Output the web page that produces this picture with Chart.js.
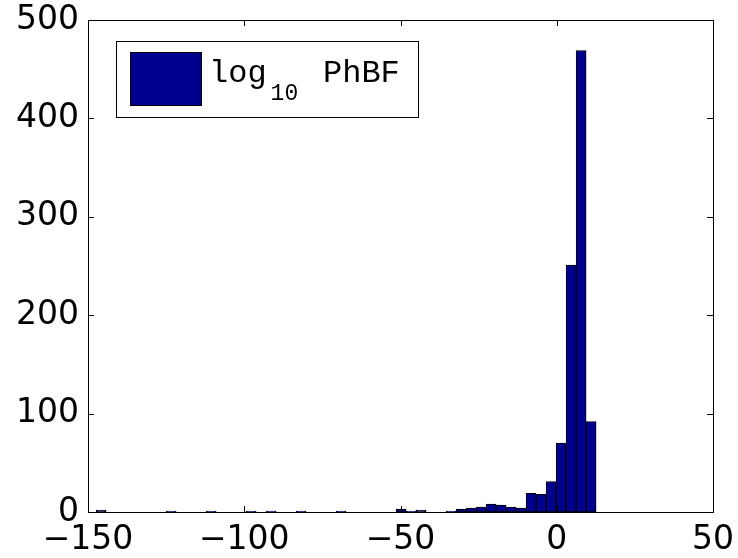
<!DOCTYPE html>
<html>
<head>
<meta charset="utf-8">
<title>log10 PhBF histogram</title>
<script src="https://cdn.jsdelivr.net/npm/chart.js@4.4.1/dist/chart.umd.min.js"></script>
<style>
  html, body { margin: 0; padding: 0; background: #fff; }
  canvas { display: block; }
</style>
</head>
<body>
<canvas id="hist" width="738" height="558"></canvas>
<script>
// histogram bins (centres) and counts
const binCenters = [
  -145.8, -142.6, -139.4, -136.2, -133.0, -129.8, -126.6, -123.4, -120.2, -117.0,
  -113.8, -110.6, -107.4, -104.2, -101.0, -97.8, -94.6, -91.4, -88.2, -85.0,
  -81.8, -78.6, -75.4, -72.2, -69.0, -65.8, -62.6, -59.4, -56.2, -53.0,
  -49.8, -46.6, -43.4, -40.2, -37.0, -33.8, -30.6, -27.4, -24.2, -21.0,
  -17.8, -14.6, -11.4, -8.2, -5.0, -1.8, 1.4, 4.6, 7.8, 11.0
];
const counts = [
  2, 0, 0, 0, 0, 0, 0, 1, 0, 0,
  0, 1, 0, 0, 0, 1, 0, 1, 0, 0,
  1, 0, 0, 0, 1, 0, 0, 0, 0, 0,
  3, 1, 2, 0, 0, 1, 3, 4, 5, 8,
  7, 5, 4, 19, 18, 31, 70, 251, 469, 92
];
const xTicks = [-150, -100, -50, 0, 50];
const yTicks = [0, 100, 200, 300, 400, 500];
const seriesLabel = "PhBF";

const barColor = "#00008f";
const tickFont = { family: "'DejaVu Sans', sans-serif", size: 33 };

// MATLAB style box with inward ticks on all four sides
const boxPlugin = {
  id: "box",
  afterDatasetsDraw(chart) {
    const { ctx, chartArea: a, scales } = chart;
    ctx.save();
    ctx.strokeStyle = "#000";
    ctx.lineWidth = 1;
    ctx.strokeRect(a.left + 0.5, a.top + 0.5, a.right - a.left, a.bottom - a.top);
    ctx.beginPath();
    xTicks.forEach(v => {
      const x = Math.round(scales.x.getPixelForValue(v)) + 0.5;
      ctx.moveTo(x, a.bottom); ctx.lineTo(x, a.bottom - 6);
      ctx.moveTo(x, a.top); ctx.lineTo(x, a.top + 6);
    });
    yTicks.forEach(v => {
      const y = Math.round(scales.y.getPixelForValue(v)) + 0.5;
      ctx.moveTo(a.left, y); ctx.lineTo(a.left + 6, y);
      ctx.moveTo(a.right, y); ctx.lineTo(a.right - 6, y);
    });
    ctx.stroke();
    ctx.restore();
  }
};

// legend with subscript text, drawn by hand
const legendPlugin = {
  id: "subLegend",
  afterDraw(chart) {
    const ctx = chart.ctx;
    ctx.save();
    ctx.fillStyle = "#fff";
    ctx.fillRect(116, 41, 302, 76);
    ctx.strokeStyle = "#000";
    ctx.lineWidth = 1;
    ctx.strokeRect(116.5, 41.5, 302, 76);
    ctx.fillStyle = chart.data.datasets[0].backgroundColor;
    ctx.fillRect(130, 52, 71, 53);
    ctx.strokeRect(130.5, 52.5, 71, 53);

    ctx.fillStyle = "#000";
    ctx.textBaseline = "alphabetic";
    ctx.textAlign = "left";
    let x = 209;
    ctx.font = "32px 'Liberation Mono', monospace";
    ctx.fillText("log", x, 82);
    x += ctx.measureText("log").width + 4;
    ctx.font = "23px 'Liberation Mono', monospace";
    ctx.fillText("10", x, 100);
    ctx.font = "32px 'Liberation Mono', monospace";
    ctx.fillText(seriesLabel, 323, 82);
    ctx.restore();
  }
};

const minus = v => String(v).replace("-", "\u2212");

new Chart(document.getElementById("hist"), {
  type: "bar",
  data: {
    datasets: [{
      label: "log10 " + seriesLabel,
      data: binCenters.map((x, i) => ({ x: x, y: counts[i] })),
      backgroundColor: barColor,
      borderColor: "#000",
      borderWidth: 1,
      borderSkipped: false,
      barPercentage: 1,
      categoryPercentage: 1
    }]
  },
  options: {
    responsive: false,
    animation: false,
    layout: { padding: { left: 0, top: 20, right: 25, bottom: 0 } },
    plugins: { legend: { display: false }, tooltip: { enabled: false } },
    scales: {
      x: {
        type: "linear",
        min: -150, max: 50,
        offset: false,
        grid: { display: false, drawTicks: false },
        border: { display: false },
        afterBuildTicks: s => { s.ticks = xTicks.map(v => ({ value: v })); },
        afterFit: s => { s.height = 46; s.paddingLeft = 0; s.paddingRight = 0; },
        ticks: { font: tickFont, color: "#000", padding: 9, maxRotation: 0, autoSkip: false, callback: minus }
      },
      y: {
        min: 0, max: 500,
        grid: { display: false, drawTicks: false },
        border: { display: false },
        afterBuildTicks: s => { s.ticks = yTicks.map(v => ({ value: v })); },
        afterFit: s => { s.width = 88; s.paddingTop = 0; s.paddingBottom = 0; },
        ticks: { font: tickFont, color: "#000", padding: 9, callback: minus }
      }
    }
  },
  plugins: [boxPlugin, legendPlugin]
});
</script>
</body>
</html>
